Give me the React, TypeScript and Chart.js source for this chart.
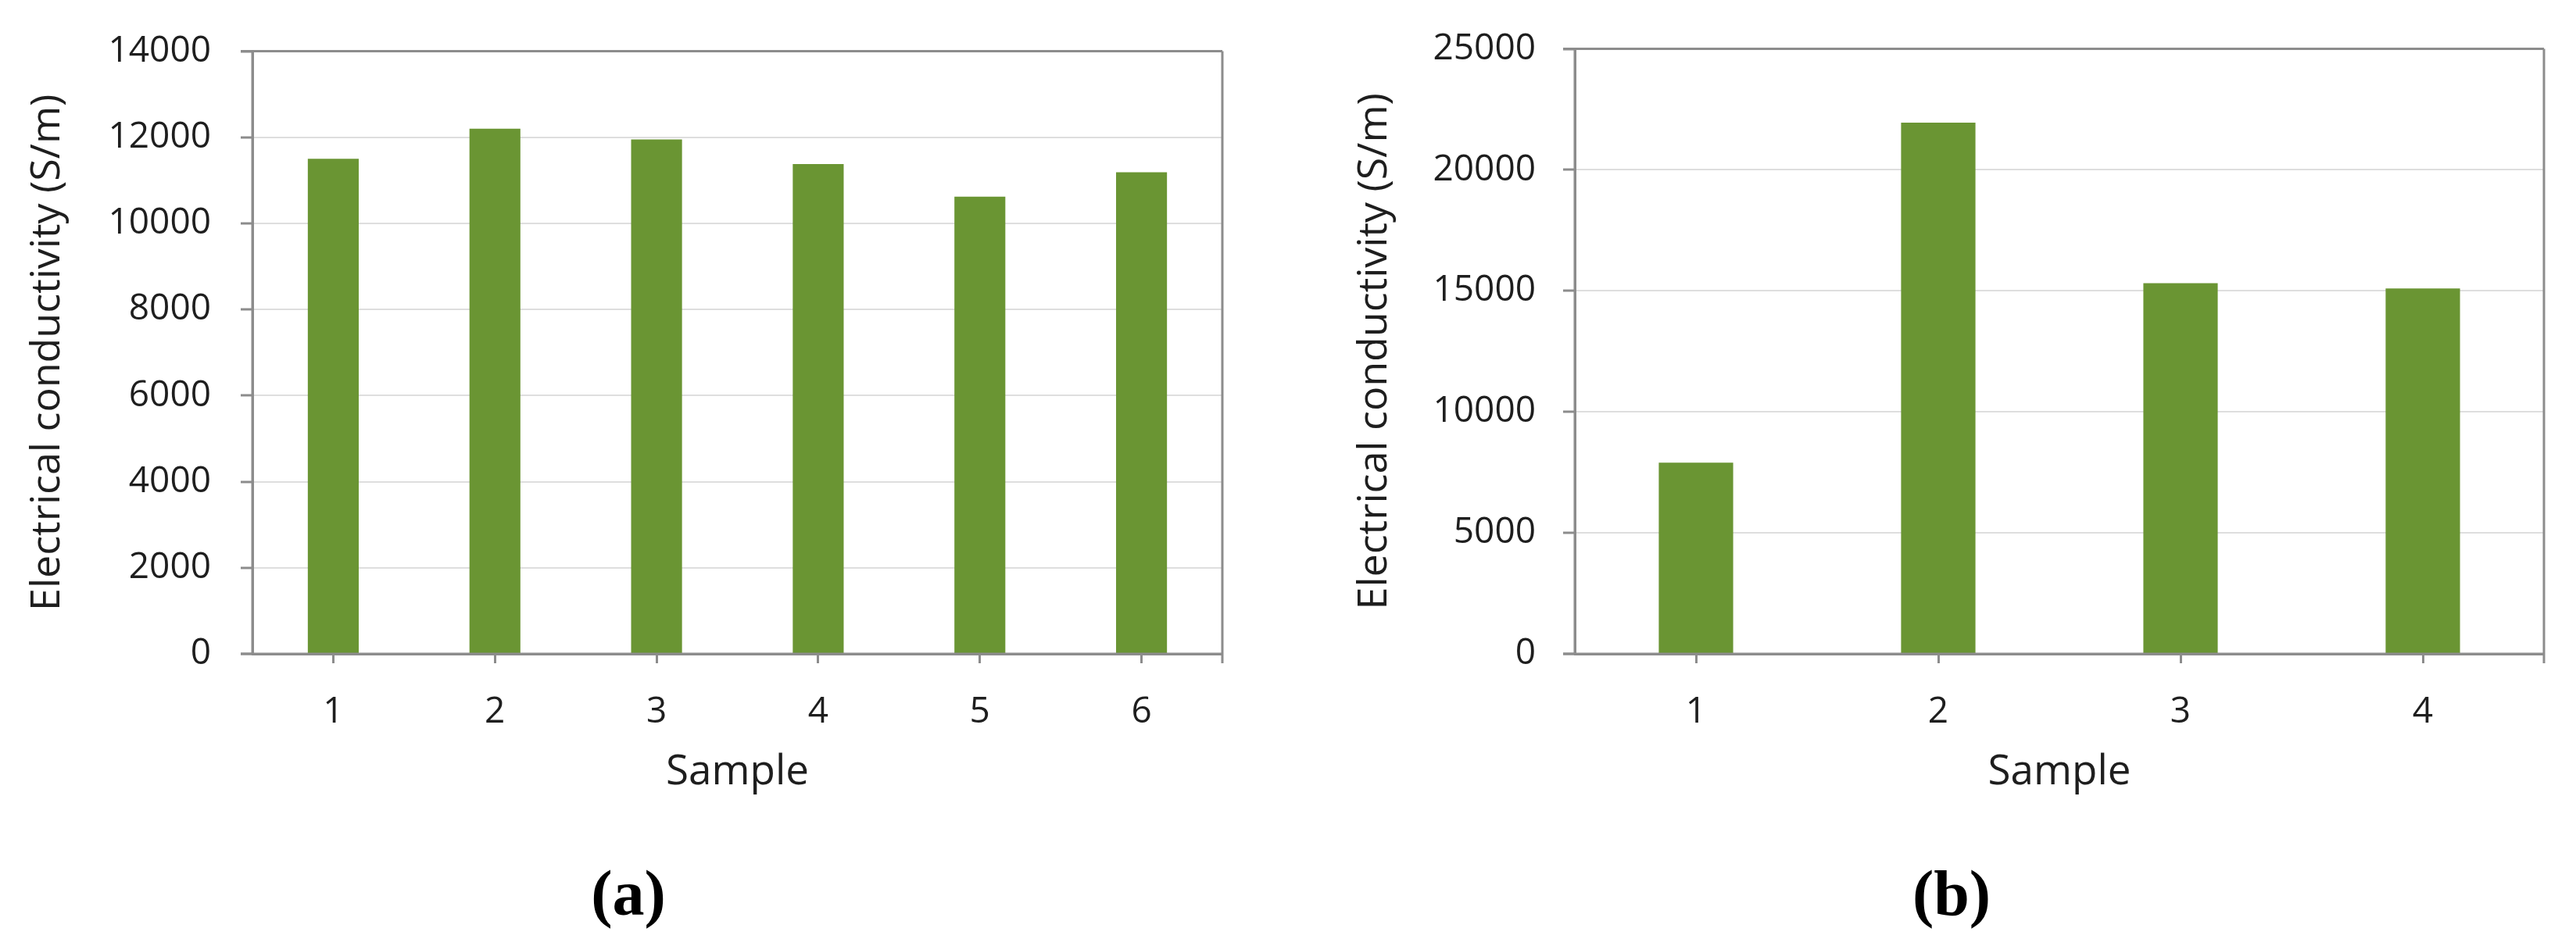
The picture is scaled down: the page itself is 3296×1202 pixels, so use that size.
import React, { useEffect, useRef } from "react";
import { Chart, registerables } from "chart.js";

Chart.register(...registerables);

// ---- data ----
const categoriesA = ["1", "2", "3", "4", "5", "6"];
const valuesA = [11500, 12200, 11950, 11380, 10620, 11190];
const yMaxA = 14000;
const yStepA = 2000;

const categoriesB = ["1", "2", "3", "4"];
const valuesB = [7900, 21950, 15320, 15100];
const yMaxB = 25000;
const yStepB = 5000;

const xTitle = "Sample";
const yTitle = "Electrical conductivity (S/m)";
const panelLabels = ["(a)", "(b)"];

const BAR = "#6a9533";
const AXIS = "#8c8c8c";
const GRID = "#dedede";
const TEXT = "#1e1e1e";
const FONT = "'Open Sans', sans-serif";

type PanelProps = {
  left: number;
  width: number;
  height: number;
  cats: string[];
  vals: number[];
  max: number;
  step: number;
  yWidth: number;
  rightPad: number;
  yTitlePad: number;
  yTickPad: number;
  barPct: number;
};

const frame = {
  id: "frame",
  afterDatasetsDraw(chart: any) {
    const { ctx, chartArea } = chart;
    const { left, right, top, bottom } = chartArea;
    ctx.save();
    ctx.strokeStyle = AXIS;
    ctx.lineWidth = 3;
    ctx.beginPath();
    ctx.moveTo(left - 15, top);
    ctx.lineTo(right, top);
    ctx.moveTo(right, top);
    ctx.lineTo(right, bottom + 12);
    ctx.moveTo(left - 15, bottom);
    ctx.lineTo(right, bottom);
    ctx.moveTo(left, top);
    ctx.lineTo(left, bottom);
    ctx.stroke();
    ctx.restore();
  },
};

function Panel(p: PanelProps) {
  const ref = useRef<HTMLCanvasElement>(null);
  useEffect(() => {
    if (!ref.current) return;
    const chart = new Chart(ref.current, {
      type: "bar",
      data: {
        labels: p.cats,
        datasets: [
          {
            data: p.vals,
            backgroundColor: BAR,
            borderWidth: 0,
            categoryPercentage: 1,
            barPercentage: p.barPct,
          },
        ],
      },
      plugins: [frame],
      options: {
        animation: false,
        responsive: false,
        devicePixelRatio: 1,
        layout: { padding: { top: 62, right: p.rightPad, left: 0, bottom: 0 } },
        plugins: { legend: { display: false }, tooltip: { enabled: false } },
        scales: {
          x: {
            grid: {
              display: true,
              drawOnChartArea: false,
              drawTicks: true,
              tickLength: 12,
              tickColor: AXIS,
              tickWidth: 3,
              offset: false,
            },
            border: { display: true, color: AXIS, width: 3 },
            ticks: {
              color: TEXT,
              padding: 35,
              font: { family: FONT, size: 46 },
              maxRotation: 0,
            },
            title: {
              display: true,
              text: xTitle,
              color: TEXT,
              font: { family: FONT, size: 53 },
              padding: { top: 0, bottom: 79 },
            },
            afterFit: (s: any) => {
              s.height = p.height - 837;
            },
          },
          y: {
            min: 0,
            max: p.max,
            grid: {
              color: GRID,
              lineWidth: 2,
              drawTicks: true,
              tickLength: 15,
              tickColor: AXIS,
              tickWidth: 3,
            },
            border: { display: true, color: AXIS, width: 3 },
            ticks: {
              stepSize: p.step,
              color: TEXT,
              padding: p.yTickPad,
              font: { family: FONT, size: 46 },
              callback: (v: any) => String(v),
            },
            title: {
              display: true,
              text: yTitle,
              color: TEXT,
              font: { family: FONT, size: 52 },
              padding: { top: p.yTitlePad, bottom: 0 },
            },
            afterFit: (s: any) => {
              s.width = p.yWidth;
            },
          },
        },
      },
    } as any);
    return () => chart.destroy();
  }, []);
  return (
    <canvas
      ref={ref}
      width={p.width}
      height={p.height}
      style={{ position: "absolute", left: p.left, top: 0, width: p.width, height: p.height }}
    />
  );
}

const labelStyle = (cx: number): React.CSSProperties => ({
  position: "absolute",
  left: cx,
  top: 1103,
  transform: "translateX(-50%)",
  fontFamily: "'Liberation Serif', 'Times New Roman', serif",
  fontWeight: "bold",
  fontSize: 82,
  lineHeight: "82px",
  color: "#000",
  whiteSpace: "nowrap",
});

export default function App() {
  return (
    <div
      style={{
        position: "fixed",
        left: 0,
        top: 0,
        width: 3296,
        height: 1202,
        background: "#fff",
        overflow: "hidden",
      }}
    >
      <Panel
        left={0}
        width={1648}
        height={1100}
        cats={categoriesA}
        vals={valuesA}
        max={yMaxA}
        step={yStepA}
        yWidth={323}
        rightPad={84}
        yTitlePad={30}
        yTickPad={38}
        barPct={0.315}
      />
      <Panel
        left={1648}
        width={1648}
        height={1100}
        cats={categoriesB}
        vals={valuesB}
        max={yMaxB}
        step={yStepB}
        yWidth={367}
        rightPad={41}
        yTitlePad={80}
        yTickPad={35}
        barPct={0.307}
      />
      <div style={labelStyle(804)}>{panelLabels[0]}</div>
      <div style={labelStyle(2497)}>{panelLabels[1]}</div>
    </div>
  );
}
